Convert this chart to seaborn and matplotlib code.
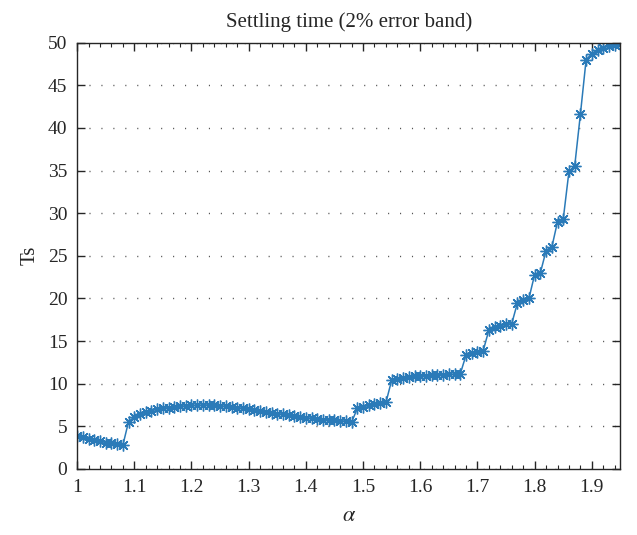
import numpy as np
import pandas as pd
import matplotlib
matplotlib.use("Agg")
import matplotlib.pyplot as plt
from matplotlib.ticker import MultipleLocator
import seaborn as sns

# Fractional order alpha, sampled every 0.01
alpha = [round(1.0 + 0.01 * i, 2) for i in range(96)]

# Settling time (2% band) for each alpha
ts_low = [3.9, 3.7, 3.55, 3.4, 3.25, 3.1, 3.0, 2.9, 2.78]                 # 1.00-1.08
ts_arc = [5.55, 6.1, 6.4, 6.65, 6.85, 7.0, 7.1, 7.2, 7.3, 7.35,
          7.4, 7.45, 7.45, 7.5, 7.5, 7.45, 7.4, 7.35, 7.3, 7.2,
          7.1, 7.0, 6.9, 6.8, 6.7, 6.6, 6.5, 6.4, 6.3, 6.2,
          6.1, 6.0, 5.95, 5.9, 5.8, 5.75, 5.7, 5.65, 5.6, 5.5]            # 1.09-1.48
ts_step1 = [7.1, 7.3, 7.45, 7.6, 7.7, 7.8]                                # 1.49-1.54
ts_step2 = [10.4, 10.6, 10.7, 10.8, 10.85, 10.9, 10.95, 11.0, 11.05,
            11.05, 11.1, 11.1, 11.15]                                     # 1.55-1.67
ts_step3 = [13.35, 13.55, 13.7, 13.85]                                    # 1.68-1.71
ts_step4 = [16.3, 16.6, 16.8, 16.95, 17.05]                               # 1.72-1.76
ts_step5 = [19.5, 19.8, 20.0]                                             # 1.77-1.79
ts_steep = [22.8, 23.0, 25.6, 26.0, 29.0, 29.3, 34.9, 35.5, 41.6]         # 1.80-1.88
ts_top = [48.0, 48.7, 49.1, 49.4, 49.6, 49.7, 49.8]                       # 1.89-1.95

ts = ts_low + ts_arc + ts_step1 + ts_step2 + ts_step3 + ts_step4 + ts_step5 + ts_steep + ts_top

df = pd.DataFrame({"alpha": alpha, "Ts": ts})

sns.set_theme(style="ticks")
plt.rcParams["font.family"] = ["Liberation Serif", "DejaVu Serif"]
plt.rcParams["mathtext.fontset"] = "stix"

fig = plt.figure(figsize=(6.37, 5.35), dpi=100)
ax = fig.add_axes([0.121, 0.1234, 0.853, 0.797])

line_color = "#2a7ab8"
sns.lineplot(data=df, x="alpha", y="Ts", ax=ax, color=line_color,
             linewidth=1.1, marker=(8, 2, 0), markersize=8.5,
             markeredgecolor=line_color, markeredgewidth=1.0)

ax.set_xlim(1.0, 1.95)
ax.set_ylim(0, 50)
ax.xaxis.set_minor_locator(MultipleLocator(0.02))
ax.yaxis.set_major_locator(MultipleLocator(5))
ax.set_xticks(np.arange(1.0, 1.91, 0.1))
ax.set_xticklabels(["1", "1.1", "1.2", "1.3", "1.4", "1.5", "1.6", "1.7", "1.8", "1.9"])

ax.yaxis.grid(True, color="#555555", linewidth=1.0, linestyle=(0, (0.8, 7.8)))
ax.xaxis.grid(False)

for side in ["left", "right", "top", "bottom"]:
    ax.spines[side].set_visible(True)
    ax.spines[side].set_color("#262626")
    ax.spines[side].set_linewidth(1.0)

ax.tick_params(which="major", direction="in", length=6, width=1.0,
               top=True, right=True, labelsize=14, colors="#262626", pad=7)
ax.tick_params(which="minor", direction="in", length=3, width=0.8,
               top=True, bottom=True)

ax.set_title("Settling time (2% error band)", fontsize=15, color="#262626", pad=11)
ax.set_xlabel(r"$\alpha$", fontsize=16, color="#262626", labelpad=8)
ax.set_ylabel("Ts", fontsize=15, color="#262626", labelpad=6)

fig.savefig("out.png", dpi=100)
